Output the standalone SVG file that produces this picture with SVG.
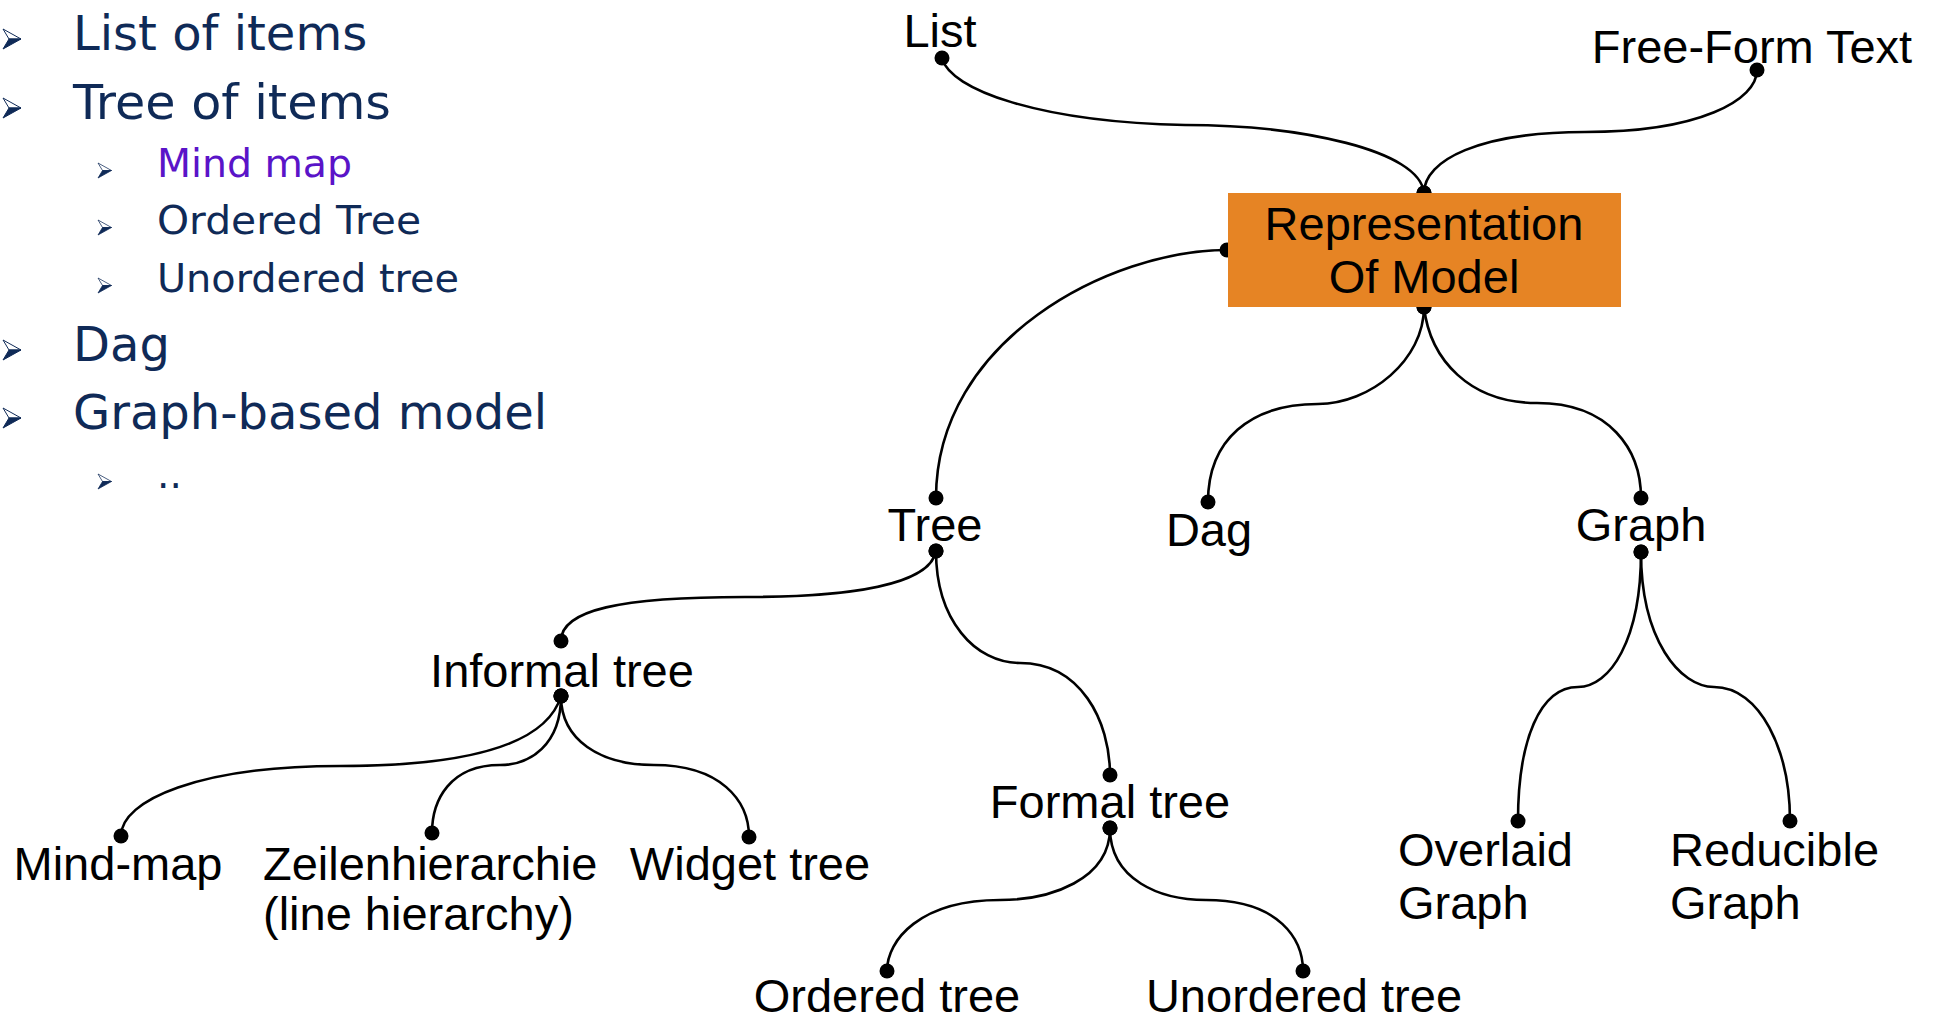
<svg xmlns="http://www.w3.org/2000/svg" width="1942" height="1019" viewBox="0 0 1942 1019">
  <style>
    .bl { font-family: "DejaVu Sans", Verdana, sans-serif; fill: #0F2A57; }
    .b1 { font-size: 48px; }
    .b2 { font-size: 39px; }
    .hl { fill: #5A14C8; }
    .lbl { font-family: "Liberation Sans", Arial, sans-serif; font-size: 47px; fill: #000; }
    .mid { text-anchor: middle; }
    .edge { fill: none; stroke: #000; stroke-width: 2.6; marker-start: url(#dot); marker-end: url(#dot); }
    .arrow-top { fill: #fff; stroke: #0F2A57; stroke-width: 1; stroke-linejoin: round; }
    .arrow-bot { fill: #0F2A57; stroke: #0F2A57; stroke-width: 1; stroke-linejoin: round; }
  </style>
  <defs>
    <marker id="dot" markerWidth="18" markerHeight="18" refX="9" refY="9" markerUnits="userSpaceOnUse" orient="0">
      <circle cx="9" cy="9" r="7.5" fill="#000"/>
    </marker>
    <!-- arrowhead bullet, 18 x 20, origin at top-left -->
    <g id="bullet">
      <polygon class="arrow-top" points="0,0 18,10 6,10"/>
      <polygon class="arrow-bot" points="6,10 18,10 0,20"/>
    </g>
  </defs>
  <rect width="1942" height="1019" fill="#fff"/>

  <!-- bullet list -->
  <g id="bullet-list">
    <use href="#bullet" x="3" y="29"/>
    <text class="bl b1" x="73" y="50">List of items</text>
    <use href="#bullet" x="3" y="98"/>
    <text class="bl b1" x="73" y="119" textLength="318" lengthAdjust="spacingAndGlyphs">Tree of items</text>
    <use href="#bullet" transform="translate(98,163) scale(0.75)"/>
    <text class="bl b2 hl" x="157" y="177" textLength="195" lengthAdjust="spacingAndGlyphs">Mind map</text>
    <use href="#bullet" transform="translate(98,220) scale(0.75)"/>
    <text class="bl b2" x="157" y="234" textLength="264" lengthAdjust="spacingAndGlyphs">Ordered Tree</text>
    <use href="#bullet" transform="translate(98,278) scale(0.75)"/>
    <text class="bl b2" x="157" y="292" textLength="302" lengthAdjust="spacingAndGlyphs">Unordered tree</text>
    <use href="#bullet" x="3" y="340"/>
    <text class="bl b1" x="73" y="361">Dag</text>
    <use href="#bullet" x="3" y="408"/>
    <text class="bl b1" x="73" y="429">Graph-based model</text>
    <use href="#bullet" transform="translate(98,474) scale(0.75)"/>
    <text class="bl b2" x="157" y="488">..</text>
  </g>

  <!-- connectors -->
  <g id="connectors">
    <path class="edge" d="M942,58 C950,90 1040,122 1185,125 C1300,125 1420,150 1424,193"/>
    <path class="edge" d="M1757,70 C1757,100 1700,132 1585,132 C1480,132 1424,160 1424,193"/>
    <path class="edge" d="M1227,250 C1110,250 936,340 936,498"/>
    <path class="edge" d="M1424,307 C1424,360 1370,404 1318,404 C1250,404 1208,440 1208,502"/>
    <path class="edge" d="M1424,307 C1430,360 1470,403 1537,403 C1610,403 1641,450 1641,498"/>
    <path class="edge" d="M936,551 C930,585 850,597 745,597 C620,597 561,610 561,641"/>
    <path class="edge" d="M936,551 C936,620 975,663 1020,663 C1080,663 1110,720 1110,775"/>
    <path class="edge" d="M561,696 C545,750 450,766 340,766 C200,766 121,800 121,836"/>
    <path class="edge" d="M561,696 C561,745 530,765 500,765 C450,765 432,800 432,833"/>
    <path class="edge" d="M561,696 C561,740 600,765 654,765 C720,765 749,800 749,837"/>
    <path class="edge" d="M1110,828 C1110,880 1050,900 1000,900 C920,900 887,940 887,971"/>
    <path class="edge" d="M1110,828 C1110,880 1160,900 1206,900 C1280,900 1303,940 1303,971"/>
    <path class="edge" d="M1641,552 C1641,640 1610,687 1578,687 C1540,687 1518,740 1518,821"/>
    <path class="edge" d="M1641,552 C1641,640 1680,687 1714,687 C1760,687 1790,750 1790,821"/>
  </g>

  <!-- nodes -->
  <g id="node-list"><text class="lbl mid" x="940" y="47">List</text></g>
  <g id="node-free-form"><text class="lbl mid" x="1752" y="63">Free-Form Text</text></g>
  <g id="node-model">
    <rect x="1228" y="193" width="393" height="114" fill="#E68424"/>
    <text class="lbl mid" x="1424" y="240">Representation</text>
    <text class="lbl mid" x="1424" y="293">Of Model</text>
  </g>
  <g id="node-tree"><text class="lbl mid" x="935" y="541">Tree</text></g>
  <g id="node-dag"><text class="lbl mid" x="1209" y="546">Dag</text></g>
  <g id="node-graph"><text class="lbl mid" x="1641" y="541">Graph</text></g>
  <g id="node-informal"><text class="lbl mid" x="562" y="687">Informal tree</text></g>
  <g id="node-formal"><text class="lbl mid" x="1110" y="818">Formal tree</text></g>
  <g id="node-mindmap"><text class="lbl mid" x="118" y="880">Mind-map</text></g>
  <g id="node-zeilen">
    <text class="lbl" x="263" y="880">Zeilenhierarchie</text>
    <text class="lbl" x="263" y="930">(line hierarchy)</text>
  </g>
  <g id="node-widget"><text class="lbl mid" x="750" y="880">Widget tree</text></g>
  <g id="node-ordered"><text class="lbl mid" x="887" y="1012">Ordered tree</text></g>
  <g id="node-unordered"><text class="lbl mid" x="1304" y="1012">Unordered tree</text></g>
  <g id="node-overlaid">
    <text class="lbl" x="1398" y="866">Overlaid</text>
    <text class="lbl" x="1398" y="919">Graph</text>
  </g>
  <g id="node-reducible">
    <text class="lbl" x="1670" y="866">Reducible</text>
    <text class="lbl" x="1670" y="919">Graph</text>
  </g>
</svg>
